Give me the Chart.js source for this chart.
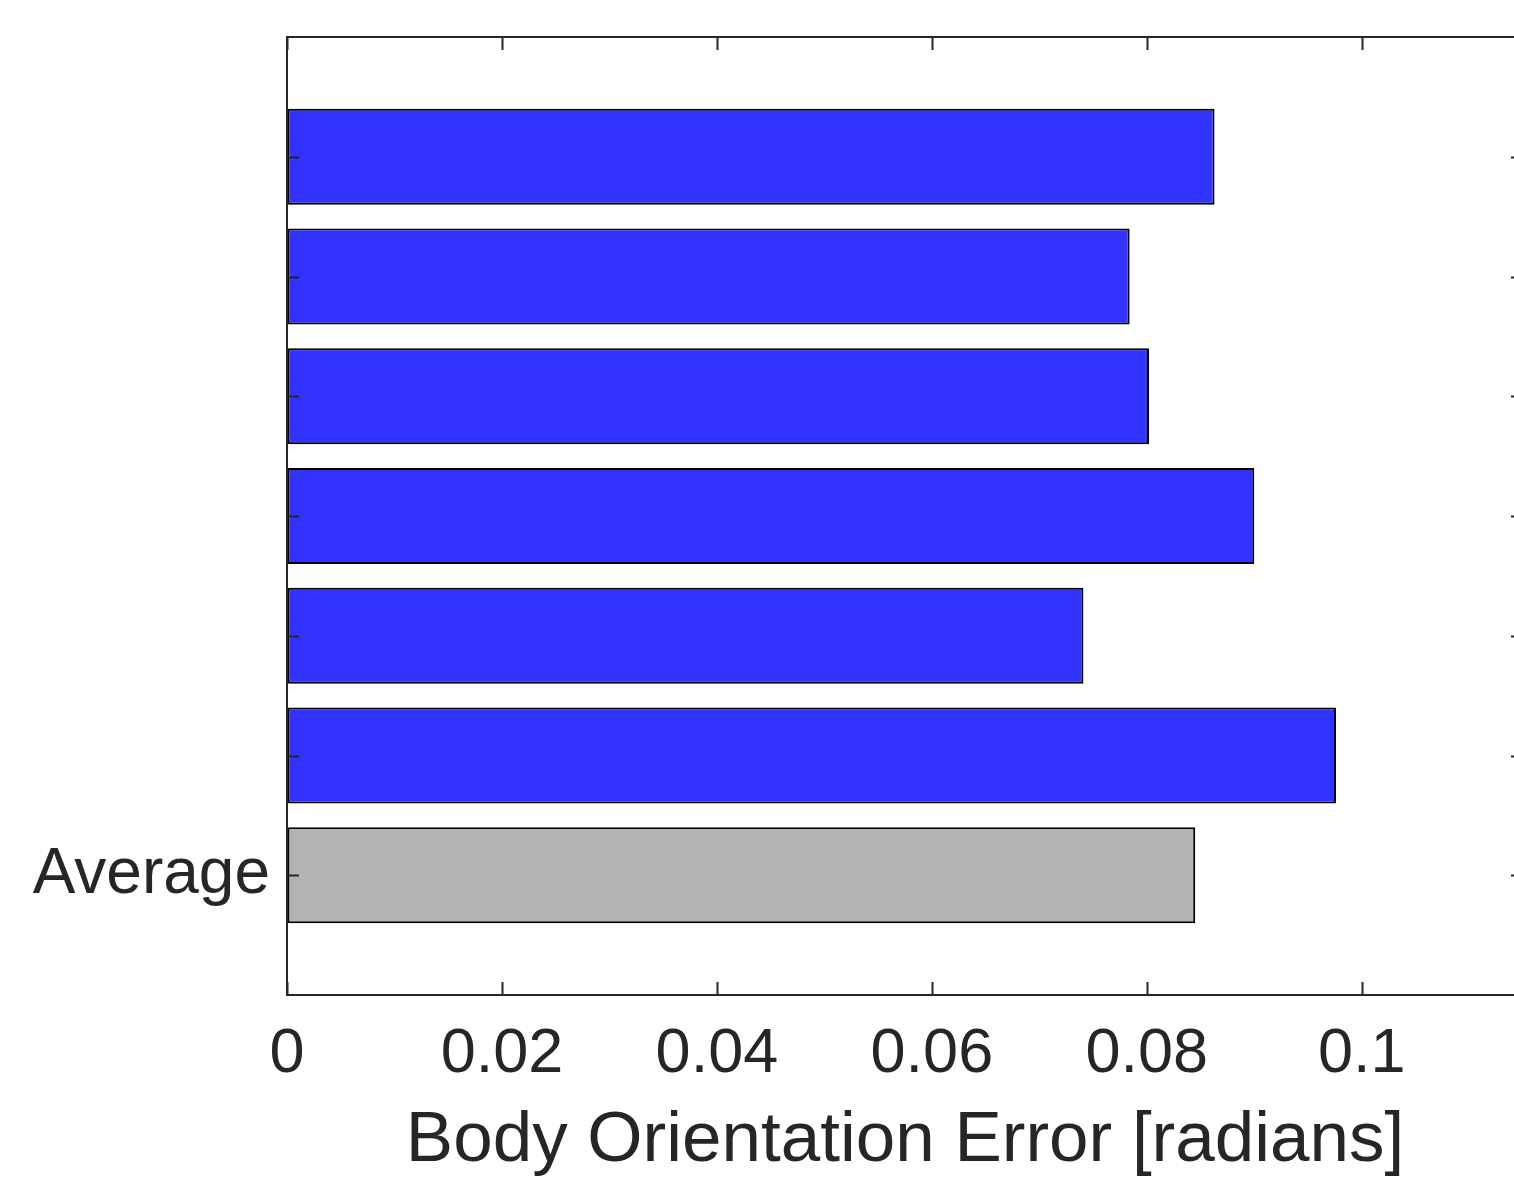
<!DOCTYPE html>
<html>
<head>
<meta charset="utf-8">
<script src="https://cdn.jsdelivr.net/npm/chart.js@4"></script>
<style>
  html, body { margin: 0; padding: 0; background: #fff; overflow: hidden; }
  #wrap { width: 1530px; height: 1179px; }
</style>
</head>
<body>
<div id="wrap"><canvas id="errChart"></canvas></div>
<script>
// valores (de arriba hacia abajo)
const categorias = ['', '', '', '', '', '', 'Average'];
const errores = [0.0863, 0.0784, 0.0802, 0.0900, 0.0741, 0.0976];
const promedio = 0.0845;
const ticksX = [0, 0.02, 0.04, 0.06, 0.08, 0.1];

const colorAzul = '#3333ff';
const colorGris = '#b3b3b3';
const colorEje = '#262626';
const fuente = '"Liberation Sans", Arial, Helvetica, sans-serif';

// un hueco arriba y otro abajo, como en el eje original (0..8)
const etiquetas = [''].concat(categorias, ['']);
const valores = [null].concat(errores, [promedio], [null]);
const colores = [colorAzul].concat(errores.map(() => colorAzul), [colorGris], [colorAzul]);

// marcas hacia adentro en los cuatro lados
const marcasInternas = {
  id: 'marcasInternas',
  afterDraw(chart) {
    const { ctx, chartArea: a, scales } = chart;
    ctx.save();
    ctx.strokeStyle = colorEje;
    ctx.lineWidth = 2;
    ctx.beginPath();
    ticksX.forEach(v => {
      const px = Math.round(scales.x.getPixelForValue(v)) + 0.5;
      ctx.moveTo(px, a.bottom); ctx.lineTo(px, a.bottom - 13);
      ctx.moveTo(px, a.top); ctx.lineTo(px, a.top + 13);
    });
    for (let i = 1; i <= categorias.length; i++) {
      const py = Math.round(scales.y.getPixelForValue(i)) + 0.5;
      ctx.moveTo(a.left, py); ctx.lineTo(a.left + 12, py);
      ctx.moveTo(a.right, py); ctx.lineTo(a.right - 12, py);
    }
    ctx.stroke();
    ctx.strokeRect(a.left, a.top, a.right - a.left, a.bottom - a.top);
    ctx.restore();
  }
};

new Chart(document.getElementById('errChart'), {
  type: 'bar',
  data: {
    labels: etiquetas,
    datasets: [{
      data: valores,
      backgroundColor: colores,
      borderColor: '#000',
      borderWidth: 2,
      borderSkipped: false,
      barPercentage: 0.8,
      categoryPercentage: 1.0
    }]
  },
  options: {
    indexAxis: 'y',
    responsive: true,
    maintainAspectRatio: false,
    animation: false,
    layout: { padding: { top: 37, right: 7, left: 0, bottom: 0 } },
    plugins: {
      legend: { display: false },
      tooltip: { enabled: false }
    },
    scales: {
      x: {
        type: 'linear',
        min: 0,
        max: 0.115,
        afterFit: s => { s.height = 184; },
        afterBuildTicks: s => { s.ticks = ticksX.map(v => ({ value: v })); },
        grid: { drawOnChartArea: false, drawTicks: false },
        border: { display: false },
        ticks: {
          color: colorEje,
          padding: 22,
          maxRotation: 0,
          callback: v => String(v),
          font: { family: fuente, size: 63 }
        },
        title: {
          display: true,
          text: 'Body Orientation Error [radians]',
          color: colorEje,
          font: { family: fuente, size: 71, lineHeight: 1.06 },
          padding: 0
        }
      },
      y: {
        type: 'category',
        offset: false,
        afterFit: s => {
          s.width = 287;
          s.paddingTop = 0;
          s.paddingBottom = 0;
        },
        grid: { drawOnChartArea: false, drawTicks: false },
        border: { display: false },
        ticks: {
          color: colorEje,
          padding: 17,
          autoSkip: false,
          font: { family: fuente, size: 64 }
        }
      }
    }
  },
  plugins: [marcasInternas]
});
</script>
</body>
</html>
